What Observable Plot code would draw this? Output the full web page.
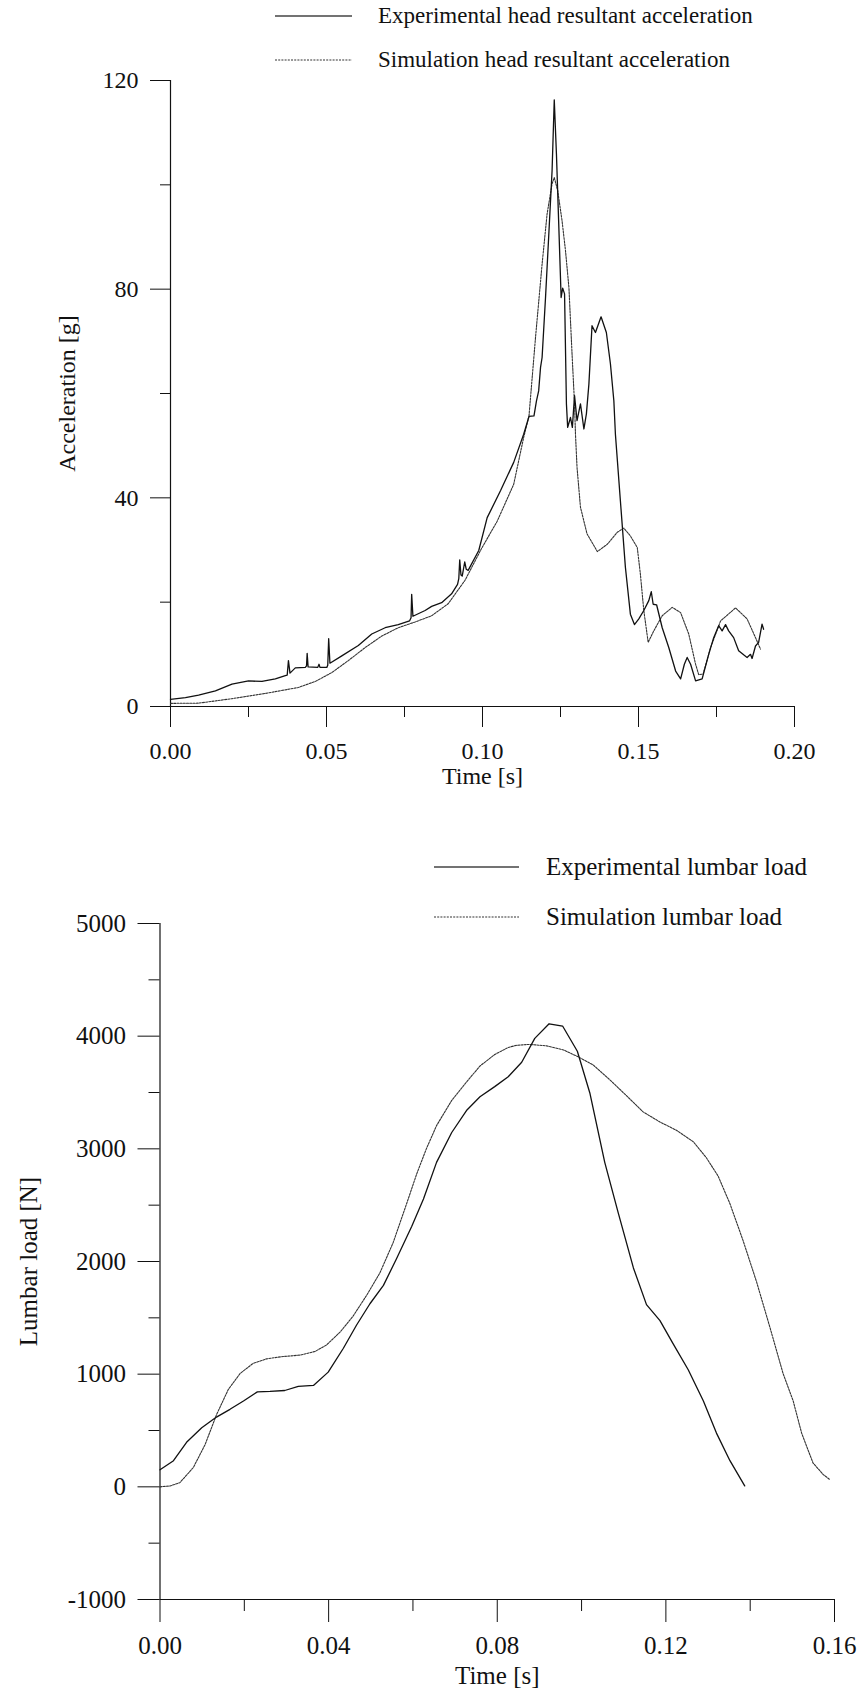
<!DOCTYPE html>
<html><head><meta charset="utf-8">
<script src="https://cdn.jsdelivr.net/npm/d3@7"></script>
<script src="https://cdn.jsdelivr.net/npm/@observablehq/plot@0.6"></script>
<style>
body{margin:0;background:#fff;}
#wrap{position:relative;width:862px;height:1690px;font-family:"Liberation Serif","Times New Roman",serif;color:#111;background:#fff;overflow:hidden;}
.leg{position:absolute;display:flex;align-items:center;white-space:nowrap;height:30px;}
.leg svg{display:block;}
.chart{position:absolute;left:0;}
.chart text{font-family:"Liberation Serif","Times New Roman",serif !important;font-variant:normal !important;font-variant-numeric:normal !important;}
</style></head><body><div id="wrap"></div>
<script>
// ---------- Head resultant acceleration ----------
const headExpT = [0,0.0048,0.009,0.0144,0.0197,0.025,0.0293,0.0336,0.0368,0.0374,0.0378,0.0383,0.04,0.0432,0.0436,0.0438,0.0441,0.0472,0.0476,0.0479,0.0501,0.0504,0.0507,0.0511,0.0549,0.0602,0.0645,0.0688,0.073,0.0766,0.0771,0.0773,0.0777,0.0816,0.0837,0.0869,0.0901,0.092,0.0924,0.0927,0.0931,0.0935,0.0943,0.0948,0.0954,0.0988,0.1015,0.1058,0.110,0.1132,0.1149,0.1165,0.1173,0.118,0.1186,0.1191,0.1202,0.1212,0.1223,0.123,0.1237,0.1244,0.1252,0.1257,0.1263,0.1269,0.1273,0.1282,0.1288,0.1295,0.1303,0.1314,0.1325,0.1333,0.1341,0.1351,0.1362,0.138,0.1397,0.141,0.1421,0.1426,0.1442,0.1458,0.1474,0.1487,0.1501,0.1517,0.1533,0.1541,0.1547,0.1558,0.1576,0.1597,0.1619,0.1635,0.1647,0.1656,0.1667,0.1683,0.1704,0.1725,0.1741,0.1757,0.1768,0.1779,0.1789,0.1805,0.1821,0.1837,0.1848,0.1859,0.1864,0.1875,0.1885,0.1896,0.1901];
const headExpG = [1.35,1.7,2.2,3.0,4.3,4.9,4.8,5.3,5.9,6.0,8.8,6.4,7.4,7.5,7.8,10.2,7.6,7.5,8.1,7.5,7.5,7.9,13.0,8.3,9.7,11.7,13.9,15.1,15.7,16.4,17.0,21.5,17.3,18.4,19.2,19.9,21.6,23.4,24.5,28.1,25.2,25.0,27.7,26.3,26.1,29.9,36.2,41.4,46.8,52.2,55.6,55.7,58.6,60.5,65.0,66.9,78.4,89.9,102.7,116.3,105.9,93.1,78.4,80.2,79.1,58.0,53.5,55.4,53.5,59.6,54.8,58.0,53.2,56.1,61.8,73.0,71.7,74.7,71.7,65.7,58.6,52.2,39.4,26.7,17.7,15.7,16.8,18.4,20.3,22.0,19.6,19.5,15.1,11.3,6.8,5.3,8.1,9.4,8.1,4.9,5.3,10.0,13.2,15.5,14.5,15.7,14.5,13.2,10.7,9.9,9.4,10.0,9.2,11.6,12.3,15.8,14.8];
const headSimT = [0,0.009,0.0197,0.0304,0.041,0.0464,0.0517,0.057,0.0624,0.0677,0.073,0.0784,0.0837,0.089,0.0944,0.0997,0.1047,0.110,0.1132,0.1149,0.117,0.1191,0.1207,0.1223,0.123,0.1241,0.1255,0.1266,0.1277,0.1287,0.1295,0.1298,0.1303,0.1314,0.1335,0.1368,0.14,0.1432,0.1453,0.1474,0.1496,0.1506,0.1517,0.1531,0.1549,0.1576,0.1608,0.1635,0.1661,0.1683,0.1693,0.1707,0.1731,0.1763,0.1811,0.1848,0.1875,0.1891];
const headSimG = [0.6,0.64,1.5,2.5,3.65,4.8,6.5,8.8,11.3,13.5,15.1,16.2,17.4,19.7,24.2,30.3,35.5,42.6,51.6,55.7,70.8,84.8,94.4,100.2,101.4,98.9,93.1,87.4,80.3,67.6,58.0,52.2,45.8,38.2,33.1,29.7,31.1,33.4,34.2,32.7,30.5,25.4,18.4,12.3,14.5,17.4,19.0,18.0,13.9,8.1,6.1,6.2,11.3,16.4,18.9,16.8,13.2,11.0];
const headXTicks = [0,0.05,0.10,0.15,0.20];
const headXMinor = [0.025,0.075,0.125,0.175];
const headYTicks = [0,40,80,120];
const headYMinor = [20,60,100];

// ---------- Lumbar load ----------
const lumbarExpT = [0,0.0032,0.0063,0.0099,0.0134,0.0166,0.0198,0.0231,0.0261,0.0296,0.0328,0.0364,0.0399,0.0435,0.0466,0.0498,0.053,0.0561,0.0597,0.0625,0.0656,0.0692,0.0727,0.0759,0.0794,0.0826,0.0858,0.0889,0.0923,0.0955,0.099,0.102,0.1055,0.1087,0.1123,0.1154,0.1186,0.1217,0.1253,0.1289,0.132,0.1352,0.1387];
const lumbarExpN = [151,232,395,525,619,688,762,843,847,855,892,900,1018,1230,1434,1625,1788,2024,2310,2554,2880,3145,3340,3462,3552,3640,3768,3980,4110,4090,3866,3491,2880,2432,1943,1617,1475,1271,1039,762,477,232,8];
const lumbarSimT = [0,0.0024,0.0047,0.0079,0.0107,0.0134,0.0162,0.019,0.0221,0.0253,0.0292,0.0332,0.0368,0.0395,0.0427,0.0458,0.049,0.0522,0.0553,0.0585,0.0609,0.0632,0.0656,0.0692,0.0727,0.0759,0.0794,0.0826,0.0846,0.0877,0.0917,0.0957,0.0992,0.1028,0.1067,0.1107,0.1146,0.1186,0.1225,0.1265,0.1296,0.1324,0.1352,0.1383,0.1415,0.1447,0.1478,0.1502,0.1522,0.1549,0.1573,0.159];
const lumbarSimN = [0,8,37,171,375,640,864,1006,1096,1136,1157,1169,1202,1259,1373,1515,1699,1902,2167,2513,2778,3002,3206,3430,3593,3735,3837,3900,3919,3927,3914,3878,3817,3743,3613,3470,3328,3238,3165,3063,2921,2758,2513,2187,1821,1413,1006,762,477,212,110,61];
const lumbarXTicks = [0,0.04,0.08,0.12,0.16];
const lumbarXMinor = [0.02,0.06,0.10,0.14];
const lumbarYTicks = [-1000,0,1000,2000,3000,4000,5000];
const lumbarYMinor = [-500,500,1500,2500,3500,4500];

const zip = (T, V) => T.map((t, i) => ({t, v: V[i]}));
const headExp = zip(headExpT, headExpG);
const headSim = zip(headSimT, headSimG);
const lumbarExp = zip(lumbarExpT, lumbarExpN);
const lumbarSim = zip(lumbarSimT, lumbarSimN);

const SERIF = '"Liberation Serif", "Times New Roman", serif';
const SOLID = {stroke: "#111", strokeWidth: 1.3};
const DOTTED = {stroke: "#333", strokeWidth: 1.1, strokeDasharray: "2,1.2"};
const wrap = document.getElementById("wrap");

function chart(cfg) {
  const font = {fontFamily: SERIF, fontSize: cfg.fs, fontVariant: "normal"};
  const svg = Plot.plot({
    width: 862, height: cfg.height,
    marginTop: cfg.mt, marginBottom: cfg.mb, marginLeft: cfg.ml, marginRight: cfg.mr,
    x: {domain: cfg.xDomain},
    y: {domain: cfg.yDomain},
    style: {fontFamily: SERIF, fontSize: cfg.fs + "px", color: "#111", background: "white", overflow: "visible"},
    marks: [
      Plot.axisX({ticks: cfg.xMinor, tickSize: cfg.minorX, tickFormat: () => "", label: null}),
      Plot.axisX({ticks: cfg.xTicks, tickSize: cfg.majorX, tickPadding: cfg.xPad, tickFormat: d3.format(".2f"), ...font,
        label: "Time [s]", labelAnchor: "center", labelOffset: cfg.xLabelOffset, labelArrow: false}),
      Plot.axisY({ticks: cfg.yMinor, tickSize: cfg.minorY, tickFormat: () => "", label: null}),
      Plot.axisY({ticks: cfg.yTicks, tickSize: cfg.majorY, tickPadding: cfg.yPad, tickFormat: d => String(d), ...font,
        label: cfg.yLabel, labelAnchor: "center", labelOffset: cfg.yLabelOffset, labelArrow: false}),
      Plot.ruleX([cfg.xDomain[0]], {stroke: "#111", strokeWidth: 1.2}),
      Plot.ruleY([cfg.yDomain[0]], {stroke: "#111", strokeWidth: 1.2}),
      Plot.line(cfg.sim, {x: "t", y: "v", ...DOTTED}),
      Plot.line(cfg.exp, {x: "t", y: "v", ...SOLID})
    ]
  });
  svg.classList.add("chart");
  svg.style.top = cfg.top + "px";
  wrap.appendChild(svg);
}

chart({top: 0, height: 800, mt: 80, mb: 94, ml: 170, mr: 68, fs: 24,
  xDomain: [0, 0.2], yDomain: [0, 120], xTicks: headXTicks, xMinor: headXMinor, yTicks: headYTicks, yMinor: headYMinor,
  majorX: 21, minorX: 11, majorY: 20, minorY: 10, xPad: 14, yPad: 12, xLabelOffset: 77, yLabel: "Acceleration [g]", yLabelOffset: 113,
  exp: headExp, sim: headSim});

chart({top: 880, height: 810, mt: 43, mb: 91, ml: 159.5, mr: 28, fs: 25,
  xDomain: [0, 0.16], yDomain: [-1000, 5000], xTicks: lumbarXTicks, xMinor: lumbarXMinor, yTicks: lumbarYTicks, yMinor: lumbarYMinor,
  majorX: 23, minorX: 12, majorY: 22, minorY: 11, xPad: 14, yPad: 12, xLabelOffset: 84, yLabel: "Lumbar load [N]", yLabelOffset: 141,
  exp: lumbarExp, sim: lumbarSim});

// ---------- Legends ----------
function legend(left, cy, text, dotted, fs, lineW, gap) {
  const d = document.createElement("div");
  d.className = "leg";
  d.style.left = left + "px";
  d.style.top = (cy - 15) + "px";
  d.style.fontSize = fs + "px";
  const dash = dotted ? 'stroke="#333" stroke-width="1.1" stroke-dasharray="2,1.2"' : 'stroke="#444" stroke-width="1.6"';
  d.innerHTML = `<svg width="${lineW}" height="30"><line x1="0" x2="${lineW}" y1="15" y2="15" ${dash}/></svg><span style="margin-left:${gap}px">${text}</span>`;
  wrap.appendChild(d);
}
legend(275, 16, "Experimental head resultant acceleration", false, 23, 77, 26);
legend(275, 60, "Simulation head resultant acceleration", true, 23, 77, 26);
legend(434, 867, "Experimental lumbar load", false, 25, 85, 27);
legend(434, 917, "Simulation lumbar load", true, 25, 85, 27);
</script></body></html>
